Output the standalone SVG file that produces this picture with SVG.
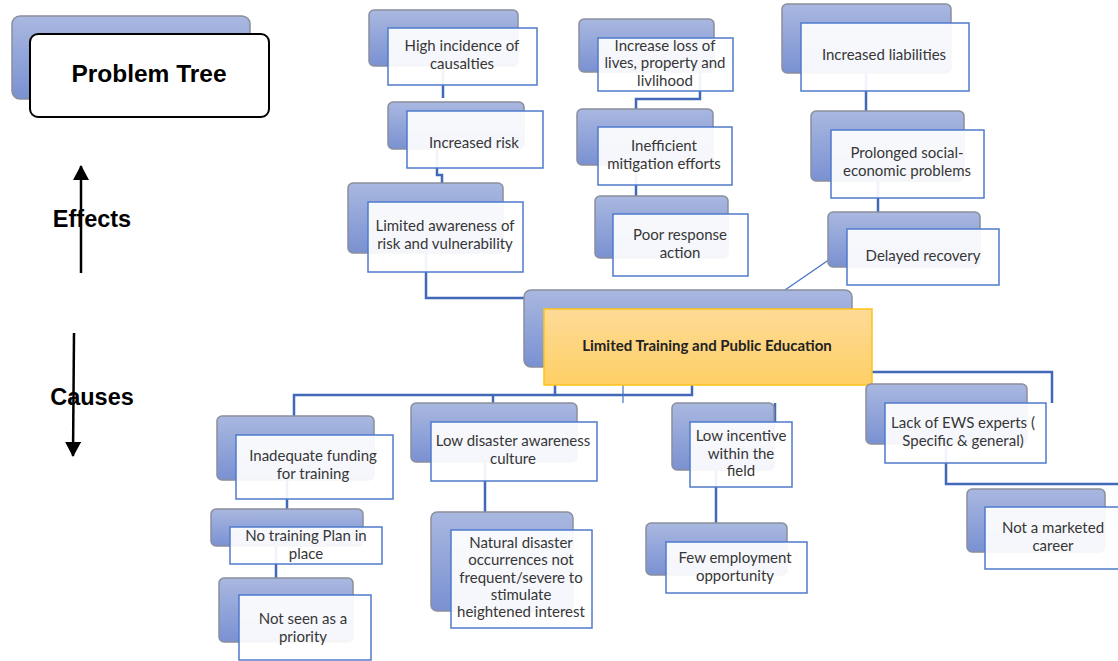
<svg xmlns="http://www.w3.org/2000/svg" width="1118" height="661" viewBox="0 0 1118 661">
<defs>
<linearGradient id="gBack" x1="0" y1="0" x2="0" y2="1">
<stop offset="0" stop-color="#A9B8E0"/>
<stop offset="1" stop-color="#7A91D2"/>
</linearGradient>
<linearGradient id="gCore" x1="0" y1="0" x2="0" y2="1">
<stop offset="0" stop-color="#FDDA97"/>
<stop offset="1" stop-color="#FFD065"/>
</linearGradient>
<marker id="ah" viewBox="0 0 15 16" refX="14" refY="8" markerWidth="15" markerHeight="16" markerUnits="userSpaceOnUse" orient="auto">
<path d="M0 0 L15 8 L0 16 Z" fill="#000"/>
</marker>
</defs>
<style>
.back{fill:url(#gBack);stroke:#8A8F9C;stroke-width:1.5}
.front{fill:#FFFFFF;fill-opacity:0.92;stroke:#4F7BCB;stroke-width:1.5}
.core{fill:url(#gCore);stroke:#FFC21A;stroke-width:1.5}
.t{font-family:Lato,"Liberation Sans",sans-serif;font-size:15px;fill:#363636;text-anchor:middle}
.tb{font-family:Lato,"Liberation Sans",sans-serif;font-size:15px;font-weight:bold;fill:#222;text-anchor:middle}
.lab{font-family:"Liberation Sans",Arial,sans-serif;font-weight:bold;fill:#000;text-anchor:middle}
.c{fill:none;stroke:#4169B8;stroke-width:2.5}
.c1{fill:none;stroke:#4472C4;stroke-width:1.2}
.ax{stroke:#000;stroke-width:2.5;fill:none}
</style>
<rect width="1118" height="661" fill="#FFFFFF"/>

<g id="connectors">
<path class="c" d="M443 66 V98"/>
<path class="c" d="M437 150 V175 H442 V184"/>
<path class="c" d="M426 253 V298 H525"/>
<path class="c" d="M700 72 V99 H636 V110"/>
<path class="c" d="M636 165 V197"/>
<path class="c" d="M866 73 V111"/>
<path class="c" d="M878 181 V213"/>
<path class="c1" d="M833 257 L785 290"/>
<path class="c" d="M555 385 V395 H692 V385"/>
<path class="c" d="M294 416 V395 H555"/>
<path class="c" d="M493 395 V404"/>
<path class="c1" d="M623 385 V403"/>
<path class="c" d="M872 372 H1052 V403"/>
<path class="c" d="M775 403 V422"/>
<path class="c" d="M287 480 V510"/>
<path class="c" d="M276 546 V579"/>
<path class="c" d="M485 462 V512"/>
<path class="c" d="M716 470 V524"/>
<path class="c" d="M946 444 V484 H1118"/>
</g>

<g id="legend">
<rect x="12" y="16" width="238" height="83" rx="8" class="back"/>
<rect x="30" y="34" width="239" height="83" rx="8" fill="#FFFFFF" stroke="#000" stroke-width="2"/>
<text x="149" y="82" class="lab" font-size="24.5">Problem Tree</text>
<line x1="81" y1="273" x2="81" y2="166" class="ax" marker-end="url(#ah)"/>
<text x="92" y="227" class="lab" font-size="23.5">Effects</text>
<line x1="74" y1="333" x2="73" y2="456" class="ax" marker-end="url(#ah)"/>
<text x="92" y="405" class="lab" font-size="23.5">Causes</text>
</g>

<g id="n-high-incidence">
<rect x="369" y="10" width="149" height="56" rx="5" class="back"/>
<rect x="388" y="28" width="149" height="57" class="front"/>
<text class="t" x="462" y="51">High incidence of</text>
<text class="t" x="462" y="69">causalties</text>
</g>
<g id="n-increased-risk">
<rect x="388" y="102" width="136" height="47" rx="5" class="back"/>
<rect x="407" y="111" width="136" height="57" class="front"/>
<text class="t" x="474" y="148">Increased risk</text>
</g>
<g id="n-limited-awareness">
<rect x="348" y="183" width="155" height="70" rx="5" class="back"/>
<rect x="368" y="202" width="155" height="70" class="front"/>
<text class="t" x="445" y="231">Limited awareness of</text>
<text class="t" x="445" y="249">risk and vulnerability</text>
</g>

<g id="n-increase-loss">
<rect x="579" y="19" width="135" height="53" rx="5" class="back"/>
<rect x="598" y="38" width="135" height="53" class="front"/>
<text class="t" x="665" y="51">Increase loss of</text>
<text class="t" x="665" y="68">lives, property and</text>
<text class="t" x="665" y="86">livlihood</text>
</g>
<g id="n-inefficient">
<rect x="577" y="109" width="136" height="56" rx="5" class="back"/>
<rect x="598" y="127" width="134" height="58" class="front"/>
<text class="t" x="664" y="151">Inefficient</text>
<text class="t" x="664" y="169">mitigation efforts</text>
</g>
<g id="n-poor-response">
<rect x="595" y="196" width="133" height="62" rx="5" class="back"/>
<rect x="613" y="214" width="135" height="62" class="front"/>
<text class="t" x="680" y="240">Poor response</text>
<text class="t" x="680" y="258">action</text>
</g>

<g id="n-increased-liabilities">
<rect x="782" y="4" width="169" height="69" rx="5" class="back"/>
<rect x="801" y="23" width="168" height="68" class="front"/>
<text class="t" x="884" y="60">Increased liabilities</text>
</g>
<g id="n-prolonged">
<rect x="811" y="111" width="153" height="70" rx="5" class="back"/>
<rect x="831" y="130" width="153" height="68" class="front"/>
<text class="t" x="907" y="158">Prolonged social-</text>
<text class="t" x="907" y="176">economic problems</text>
</g>
<g id="n-delayed-recovery">
<rect x="828" y="212" width="152" height="55" rx="5" class="back"/>
<rect x="847" y="229" width="152" height="56" class="front"/>
<text class="t" x="923" y="261">Delayed recovery</text>
</g>

<g id="n-core">
<rect x="524" y="290" width="328" height="77" rx="7" class="back"/>
<rect x="544" y="309" width="328" height="76" class="core"/>
<text class="tb" x="707" y="351">Limited Training and Public Education</text>
</g>

<g id="n-inadequate-funding">
<rect x="217" y="416" width="157" height="64" rx="5" class="back"/>
<rect x="236" y="435" width="157" height="64" class="front"/>
<text class="t" x="313" y="461">Inadequate funding</text>
<text class="t" x="313" y="479">for training</text>
</g>
<g id="n-no-training-plan">
<rect x="211" y="509" width="152" height="37" rx="5" class="back"/>
<rect x="230" y="527" width="152" height="37" class="front"/>
<text class="t" x="306" y="541">No training Plan in</text>
<text class="t" x="306" y="559">place</text>
</g>
<g id="n-not-priority">
<rect x="219" y="578" width="134" height="64" rx="5" class="back"/>
<rect x="239" y="595" width="132" height="65" class="front"/>
<text class="t" x="303" y="624">Not seen as a</text>
<text class="t" x="303" y="642">priority</text>
</g>

<g id="n-low-awareness-culture">
<rect x="411" y="403" width="166" height="59" rx="5" class="back"/>
<rect x="431" y="422" width="166" height="59" class="front"/>
<text class="t" x="513" y="446">Low disaster awareness</text>
<text class="t" x="513" y="464">culture</text>
</g>
<g id="n-natural-disaster">
<rect x="431" y="512" width="142" height="99" rx="6" class="back"/>
<rect x="451" y="530" width="141" height="98" class="front"/>
<text class="t" x="521" y="548">Natural disaster</text>
<text class="t" x="521" y="565">occurrences not</text>
<text class="t" x="521" y="583">frequent/severe to</text>
<text class="t" x="521" y="600">stimulate</text>
<text class="t" x="521" y="617">heightened interest</text>
</g>

<g id="n-low-incentive">
<rect x="672" y="403" width="102" height="67" rx="5" class="back"/>
<rect x="690" y="422" width="102" height="65" class="front"/>
<text class="t" x="741" y="441">Low incentive</text>
<text class="t" x="741" y="459">within the</text>
<text class="t" x="741" y="476">field</text>
</g>
<g id="n-few-employment">
<rect x="646" y="523" width="141" height="52" rx="5" class="back"/>
<rect x="666" y="542" width="141" height="51" class="front"/>
<text class="t" x="735" y="563">Few employment</text>
<text class="t" x="735" y="581">opportunity</text>
</g>

<g id="n-lack-ews">
<rect x="866" y="384" width="161" height="60" rx="5" class="back"/>
<rect x="885" y="403" width="161" height="60" class="front"/>
<text class="t" x="963" y="428">Lack of EWS experts (</text>
<text class="t" x="963" y="446">Specific &amp; general)</text>
</g>
<g id="n-not-marketed">
<rect x="967" y="489" width="138" height="63" rx="5" class="back"/>
<rect x="985" y="507" width="140" height="62" class="front"/>
<text class="t" x="1053" y="533">Not a marketed</text>
<text class="t" x="1053" y="551">career</text>
</g>
</svg>
